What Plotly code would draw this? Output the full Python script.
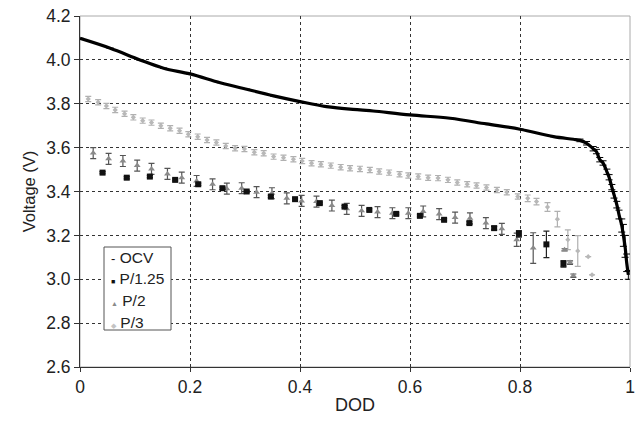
import plotly.graph_objects as go

# OCV curve
ocv_dod = [0.0, 0.055, 0.109, 0.152, 0.2, 0.255, 0.303, 0.352, 0.4, 0.448, 0.509, 0.533, 0.6, 0.673,
           0.739, 0.8, 0.861, 0.897, 0.909, 0.921, 0.933, 0.939, 0.945, 0.951, 0.958, 0.962, 0.967,
           0.971, 0.976, 0.980, 0.985, 0.988, 0.991, 0.994, 0.997]
ocv_v = [4.098, 4.053, 4.0, 3.962, 3.936, 3.896, 3.866, 3.836, 3.810, 3.787, 3.772, 3.767, 3.749, 3.734,
         3.708, 3.684, 3.65, 3.638, 3.633, 3.62, 3.595, 3.582, 3.545, 3.53, 3.49, 3.465, 3.42,
         3.385, 3.34, 3.295, 3.245, 3.2, 3.15, 3.075, 3.02]
ocv_err = [0, 0, 0, 0, 0, 0, 0, 0, 0, 0, 0, 0, 0, 0,
           0, 0, 0, 0, 0.006, 0.008, 0.01, 0.01, 0.01, 0.01, 0.012, 0.012, 0.012,
           0.015, 0.015, 0.02, 0.03, 0.05, 0.05, 0.04, 0.02]

# P/1.25
p125_dod = [0.041, 0.085, 0.127, 0.173, 0.215, 0.259, 0.303, 0.347, 0.391, 0.436, 0.481, 0.526,
            0.575, 0.618, 0.662, 0.708, 0.753, 0.798, 0.848, 0.879]
p125_v = [3.486, 3.463, 3.468, 3.453, 3.433, 3.415, 3.40, 3.377, 3.365, 3.347, 3.331, 3.316,
          3.298, 3.289, 3.271, 3.256, 3.233, 3.207, 3.159, 3.07]
p125_err = [0.005, 0.005, 0.005, 0.005, 0.005, 0.005, 0.005, 0.005, 0.005, 0.005, 0.005, 0.005,
            0.005, 0.005, 0.005, 0.006, 0.008, 0.015, 0.06, 0.015]

# P/2
p2_dod = [0.024, 0.052, 0.078, 0.104, 0.130, 0.159, 0.185, 0.212, 0.241, 0.267, 0.294, 0.321,
          0.349, 0.376, 0.403, 0.430, 0.458, 0.485, 0.512, 0.541, 0.568, 0.597, 0.624, 0.653,
          0.682, 0.709, 0.738, 0.767, 0.794, 0.824, 0.881, 0.891, 0.897]
p2_v = [3.575, 3.549, 3.539, 3.518, 3.503, 3.480, 3.463, 3.448, 3.433, 3.413, 3.415, 3.397,
        3.392, 3.369, 3.357, 3.354, 3.336, 3.321, 3.312, 3.306, 3.301, 3.301, 3.309, 3.297,
        3.281, 3.278, 3.256, 3.230, 3.18, 3.142, 3.134, 3.076, 3.016]
p2_err = [0.025, 0.025, 0.025, 0.025, 0.025, 0.025, 0.025, 0.025, 0.025, 0.025, 0.025, 0.025,
          0.025, 0.025, 0.025, 0.025, 0.025, 0.025, 0.025, 0.025, 0.025, 0.025, 0.025, 0.025,
          0.025, 0.025, 0.025, 0.025, 0.03, 0.07, 0.005, 0.008, 0.008]

# P/3
p3_dod = [0.015, 0.033, 0.048, 0.064, 0.081, 0.097, 0.114, 0.130, 0.147, 0.164, 0.181, 0.197,
          0.214, 0.231, 0.248, 0.265, 0.282, 0.299, 0.317, 0.334, 0.352, 0.370, 0.388, 0.404,
          0.421, 0.438, 0.456, 0.474, 0.491, 0.509, 0.527, 0.544, 0.562, 0.581, 0.597, 0.615,
          0.633, 0.651, 0.669, 0.686, 0.704, 0.721, 0.739, 0.758, 0.776, 0.796, 0.814, 0.830,
          0.850, 0.868, 0.887, 0.905, 0.924, 0.931]
p3_v = [3.822, 3.807, 3.79, 3.772, 3.754, 3.738, 3.723, 3.714, 3.70, 3.688, 3.677, 3.661,
        3.650, 3.635, 3.623, 3.607, 3.597, 3.594, 3.579, 3.574, 3.559, 3.554, 3.547, 3.539,
        3.529, 3.524, 3.518, 3.511, 3.506, 3.503, 3.498, 3.491, 3.486, 3.479, 3.473, 3.468,
        3.463, 3.461, 3.453, 3.441, 3.433, 3.427, 3.418, 3.407, 3.397, 3.377, 3.369, 3.354,
        3.329, 3.274, 3.18, 3.129, 3.103, 3.02]
p3_err = [0.012] * 46 + [0.015, 0.015, 0.02, 0.035, 0.045, 0.07, 0.0, 0.0]

# tick labels
x_ticks = [0, 0.2, 0.4, 0.6, 0.8, 1.0]
x_ticklabels = ["0", "0.2", "0.4", "0.6", "0.8", "1"]
y_ticks = [2.6, 2.8, 3.0, 3.2, 3.4, 3.6, 3.8, 4.0, 4.2]
y_ticklabels = ["2.6", "2.8", "3.0", "3.2", "3.4", "3.6", "3.8", "4.0", "4.2"]

# legend content
legend_names = ["OCV", "P/1.25", "P/2", "P/3"]
legend_symbols = ["-", "■", "▲", "◆"]
legend_colors = ["#111111", "#111111", "#8a8a8a", "#c4c4c4"]

font_family = "Liberation Sans, Arial, sans-serif"
L, R, T, B = 80, 10, 16, 57
W, H = 640, 424
pw, ph = W - L - R, H - T - B

fig = go.Figure()

fig.add_trace(go.Scatter(
    x=ocv_dod, y=ocv_v, mode="lines", name="OCV", showlegend=False,
    line=dict(color="black", width=3.2, shape="spline"),
    error_y=dict(type="data", array=ocv_err, color="black", thickness=1, width=3.5),
))
fig.add_trace(go.Scatter(
    x=p3_dod, y=p3_v, mode="markers", name="P/3", showlegend=False,
    marker=dict(symbol="diamond", size=4, color="#b8b8b8"),
    error_y=dict(type="data", array=p3_err, color="#b0b0b0", thickness=1.2, width=3),
))
fig.add_trace(go.Scatter(
    x=p2_dod, y=p2_v, mode="markers", name="P/2", showlegend=False,
    marker=dict(symbol="triangle-up", size=6, color="#8a8a8a"),
    error_y=dict(type="data", array=p2_err, color="#555555", thickness=1.2, width=3),
))
fig.add_trace(go.Scatter(
    x=p125_dod, y=p125_v, mode="markers", name="P/1.25", showlegend=False,
    marker=dict(symbol="square", size=6, color="#111111"),
    error_y=dict(type="data", array=p125_err, color="#222222", thickness=1.2, width=3),
))

def px2paper(px, py):
    # px, py in reference-image pixels
    return (px - L) / pw, (H - B - py) / ph

# legend box
x0, y0 = px2paper(104, 330)
x1, y1 = px2paper(171, 247)
fig.add_shape(type="rect", xref="paper", yref="paper", x0=x0, y0=y0, x1=x1, y1=y1,
              line=dict(color="#555555", width=1), fillcolor="white", layer="above")
for i, (nm, sym, col) in enumerate(zip(legend_names, legend_symbols, legend_colors)):
    ax, ay = px2paper(109, 257 + i * 21.8)
    size_sym = 13 if sym == "-" else 7
    fig.add_annotation(
        xref="paper", yref="paper", x=ax, y=ay, xanchor="left", yanchor="middle",
        showarrow=False,
        text=f'<span style="font-size:{size_sym}px;color:{col}">{sym}</span> {nm}',
        font=dict(size=15.5, color="#222222", family=font_family),
    )

fig.update_layout(
    width=W, height=H,
    margin=dict(l=L, r=R, t=T, b=B),
    paper_bgcolor="white", plot_bgcolor="white",
    font=dict(family=font_family, size=16, color="#222222"),
    showlegend=False,
)
fig.update_xaxes(
    range=[0, 1], tickmode="array", tickvals=x_ticks, ticktext=x_ticklabels,
    showgrid=True, gridcolor="#333333", griddash="dot", gridwidth=1,
    showline=True, linecolor="#333333", linewidth=1, mirror=False,
    ticks="outside", ticklen=4, tickcolor="#333333",
    title=dict(text="DOD", font=dict(size=18), standoff=2),
    tickfont=dict(size=17.5), zeroline=False, automargin=False,
    ticklabeloverflow="allow",
)
fig.update_yaxes(
    range=[2.6, 4.2], tickmode="array", tickvals=y_ticks, ticktext=y_ticklabels,
    showgrid=True, gridcolor="#333333", griddash="dot", gridwidth=1,
    showline=True, linecolor="#333333", linewidth=1,
    ticks="outside", ticklen=5, tickcolor="#333333",
    title=dict(text="Voltage (V)", font=dict(size=16.5), standoff=6),
    tickfont=dict(size=17.5), zeroline=False, automargin=False,
    ticklabeloverflow="allow",
)
fig.add_shape(type="rect", xref="paper", yref="paper", x0=0, y0=0, x1=1, y1=1,
              line=dict(color="#aaaaaa", width=1), layer="below")

# remove the default page margin so the 640x424 figure fills the window exactly
fig.write_html("out.html", config={"displayModeBar": False},
               post_script="document.body.style.margin='0';")
